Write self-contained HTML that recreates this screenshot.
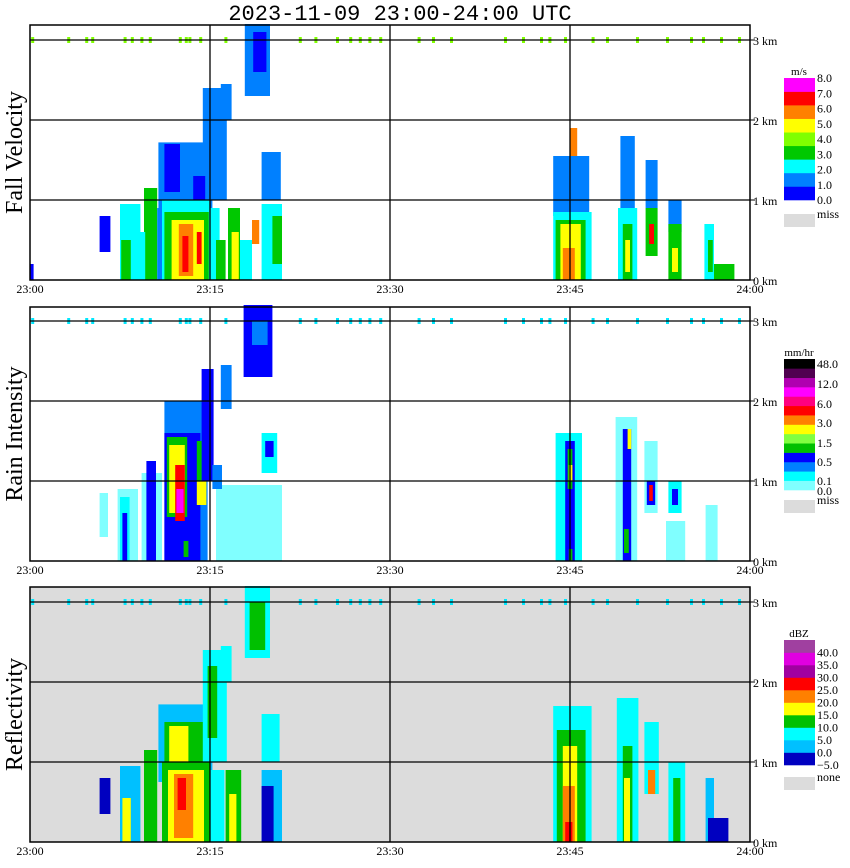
<!DOCTYPE html>
<html><head><meta charset="utf-8"><style>
body{margin:0;background:#fff;width:850px;height:868px;overflow:hidden;font-family:"Liberation Serif",serif}
svg{position:absolute;left:0;top:0}
</style></head><body>
<svg id="chart" width="850" height="868"></svg>
<script>
const timeTicks=["23:00","23:15","23:30","23:45","24:00"];
const heightTicks=[0,1,2,3];
const clutterTimes=[0.1,3.1,4.6,5.1,7.8,8.4,9.2,9.9,12.4,12.9,13.2,14.1,16.2,22.4,23.7,25.5,26.6,27.4,28.2,29.1,32.3,33.5,35,39.5,41,42.5,43.2,44.5,46.8,48,50.5,53,55,56,57.5,59];
// blobs: [tStart(min), tEnd(min), hBottom(km), hTop(km), colorLevel]
const velBlobs=[[10.7,15.2,0.75,1.72,1],[14.4,16.4,1.0,2.4,1],[15.9,16.8,2.0,2.45,1],[17.9,20.0,2.3,3.2,1],[18.6,19.7,2.6,3.1,0],[11.2,12.5,1.1,1.7,0],[13.6,14.6,0.95,1.3,0],
[7.5,9.2,0,0.95,2],[7.6,8.4,0,0.5,3],[9.5,10.6,0,1.15,3],[9.0,9.6,0,0.6,2],[10.6,11.2,0,0.9,1],[11.0,15.0,0,1.0,2],[11.2,14.9,0,0.85,3],[11.8,14.5,0,0.75,5],[12.4,13.6,0.05,0.7,6],[12.7,13.2,0.1,0.55,7],[13.9,14.3,0.2,0.6,7],
[15.0,15.8,0,0.9,2],[15.5,16.3,0,0.5,3],[16.5,17.5,0,0.9,3],[16.8,17.4,0,0.6,5],[17.5,18.5,0,0.5,2],[18.5,19.1,0.45,0.75,6],[19.3,21,0,0.95,2],[20.2,21,0.2,0.8,3],[19.3,20.9,1.0,1.6,1],[5.8,6.7,0.35,0.8,0],[0,0.3,0,0.2,0],
[43.6,46.6,0.8,1.55,1],[45.0,45.6,1.55,1.9,6],[43.6,46.8,0,0.85,2],[43.8,46.3,0,0.75,3],[44.2,45.9,0,0.7,5],[44.4,45.4,0,0.4,6],
[49.2,50.4,0.9,1.8,1],[49.0,50.6,0,0.9,2],[49.4,50.2,0,0.7,3],[49.6,50.0,0.1,0.5,5],
[51.3,52.3,0.9,1.5,1],[51.3,52.3,0.3,0.9,3],[51.6,52.0,0.45,0.7,7],
[53.2,54.3,0.6,1.0,1],[53.2,54.3,0,0.7,3],[53.5,54,0.1,0.4,5],
[56.2,57.0,0,0.7,2],[56.5,56.9,0.1,0.5,3],[57.0,58.7,0,0.2,3]];
const rainBlobs=[[5.8,6.5,0.3,0.85,0],[7.3,9.0,0,0.9,0],[9.3,11.0,0,1.1,0],[15.5,21,0,0.95,0],[7.5,8.3,0,0.8,1],[7.7,8.1,0,0.6,3],[9.7,10.5,0,1.25,3],[11.2,14.8,0,2.0,2],[11.2,14.2,0,1.6,3],[14.3,15.3,1.0,2.4,3],[15.9,16.8,1.9,2.45,2],
[11.4,13.1,0.55,1.55,4],[11.6,12.9,0.6,1.45,6],[12.1,12.9,0.5,1.2,8],[12.2,12.8,0.6,0.9,10],[13.9,14.7,0.7,1.0,6],[13.9,14.3,1.0,1.5,4],[12.8,13.2,0.05,0.25,4],
[17.8,20.2,2.3,3.2,3],[18.5,19.8,2.7,3.0,2],[19.3,20.6,1.1,1.6,1],[19.6,20.3,1.3,1.5,3],[15.2,16.0,0.9,1.2,2],
[43.8,46,0,1.6,1],[44.6,45.4,0,1.5,3],[44.8,45.2,0.9,1.4,4],[44.9,45.2,1.0,1.2,6],[44.9,45.2,0,0.15,4],
[48.8,50.6,0,1.8,0],[49.4,50.1,0,1.65,3],[49.5,49.9,0.1,0.4,4],[49.8,50.1,1.4,1.65,6],
[51.2,52.3,0.6,1.5,0],[51.4,52.1,0.7,1.0,3],[51.6,51.9,0.75,0.95,8],
[53.2,54.3,0.6,1.0,1],[53.5,54,0.7,0.9,3],[53.0,54.6,0,0.5,0],[56.3,57.3,0,0.7,0]];
const reflBlobs=[[10.7,15.2,0.75,1.72,1],[11.2,15.0,0.6,1.5,3],[11.6,13.2,0.7,1.45,4],[14.4,16.4,1.0,2.4,2],[14.8,15.6,1.3,2.2,3],[15.9,16.8,2.0,2.45,2],[17.9,20.0,2.3,3.2,2],[18.3,19.6,2.4,3.0,3],
[7.5,9.2,0,0.95,1],[7.7,8.4,0,0.55,4],[9.5,10.6,0,1.15,3],[11.0,15.0,0,1.0,3],[11.5,14.5,0,0.9,4],[12.0,13.6,0.05,0.85,5],[12.3,13.0,0.4,0.8,6],
[15.0,16.2,0,0.9,2],[16.3,17.6,0,0.9,3],[16.6,17.2,0,0.6,4],[19.3,21,0,0.9,1],[19.3,20.3,0,0.7,0],[19.3,20.8,1.0,1.6,2],[5.8,6.7,0.35,0.8,0],
[43.6,46.8,0,1.7,2],[43.9,46.3,0,1.4,3],[44.4,45.6,0,1.2,4],[44.4,45.4,0,0.7,5],[44.6,45.2,0,0.25,6],
[48.9,50.7,0,1.8,2],[49.4,50.2,0,1.2,3],[49.5,50.0,0,0.8,4],
[51.2,52.4,0.6,1.5,2],[51.5,52.1,0.6,0.9,5],
[53.2,54.6,0,1.0,2],[53.6,54.2,0,0.8,3],[56.3,57.0,0,0.8,1],[56.5,58.2,0,0.3,0]];
const velColors=["#0000ff","#0080ff","#00ffff","#00c800","#80ff00","#ffff00","#ff8000","#ff0000","#ff00ff"];
const velLabels=["0.0","1.0","2.0","3.0","4.0","5.0","6.0","7.0","8.0"];
const rainColors=["#80ffff","#00ffff","#0080ff","#0000ff","#00c000","#80ff40","#ffff00","#ff8000","#ff0000","#ff0080","#ff00ff","#b000b0","#500050","#000000"];
const rainLabels=["0.0","0.1","0.5","1.5","3.0","6.0","12.0","48.0"];
const reflColors=["#0000c0","#00c0ff","#00ffff","#00c000","#ffff00","#ff8000","#ff0000","#a000a0","#e000e0","#a040a0"];
const reflLabels=["\u22125.0","0.0","5.0","10.0","15.0","20.0","25.0","30.0","35.0","40.0"];

const svg=document.getElementById('chart');const NS="http://www.w3.org/2000/svg";
function mk(tag,attrs,parent){const e=document.createElementNS(NS,tag);for(const k in attrs)e.setAttribute(k,attrs[k]);(parent||svg).appendChild(e);return e;}
const X0=30,X1=750;
function xs(t){return X0+t*(X1-X0)/60;}
const title=mk('text',{x:400,y:20,'text-anchor':'middle','font-size':22,'font-family':'Liberation Mono, monospace'});


title.textContent="2023-11-09  23:00-24:00 UTC";

function panel(top,bottom,name,label,blobs,colors,bg,clutterColor,cb){
  const ys=h=>bottom-h*80;
  const g=mk('g',{});
  
  
  mk('rect',{x:X0,y:top,width:X1-X0,height:bottom-top,fill:bg},g);
  blobs.forEach(b=>{
    const r=mk('rect',{x:xs(b[0]),y:ys(b[3]),width:xs(b[1])-xs(b[0]),height:ys(b[2])-ys(b[3]),fill:colors[b[4]]},g);
    
    
  });
  clutterTimes.forEach(t=>{
    const r=mk('rect',{x:xs(t),y:ys(3)-3,width:3,height:6,fill:clutterColor},g);
    
    
  });
  heightTicks.forEach(h=>{
    if(h>0)mk('line',{x1:X0,x2:X1,y1:ys(h),y2:ys(h),stroke:'#000','stroke-width':1.3},g);
    mk('line',{x1:X1,x2:X1+5,y1:ys(h),y2:ys(h),stroke:'#000'},g);
    const t=mk('text',{x:X1+3,y:ys(h)+5,'font-size':12},g);
    
    
    t.textContent=h+" km";
  });
  [1,2,3].forEach(i=>mk('line',{x1:xs(i*15),x2:xs(i*15),y1:top,y2:bottom,stroke:'#000','stroke-width':1.3},g));
  mk('rect',{x:X0,y:top,width:X1-X0,height:bottom-top,fill:'none',stroke:'#000','stroke-width':1.5},g);
  timeTicks.forEach((s,i)=>{
    const t=mk('text',{x:xs(i*15),y:bottom+13,'text-anchor':'middle','font-size':12},g);
    
    
    t.textContent=s;
  });
  const yl=mk('text',{x:22,y:(top+bottom)/2,'text-anchor':'middle','font-size':24,transform:`rotate(-90 22 ${(top+bottom)/2})`},g);
  
  
  yl.textContent=label;
  const cg=mk('g',{},g);
  
  
  const n=colors.length,rh=(cb.bot-cb.top)/n;
  colors.forEach((c,i)=>mk('rect',{x:784,y:cb.bot-(i+1)*rh,width:31,height:rh+0.3,fill:c},cg));
  const u=mk('text',{x:799,y:cb.top-3,'text-anchor':'middle','font-size':11},cg);u.textContent=cb.unit;
  cb.labels.forEach((s,i)=>{const t=mk('text',{x:817,y:cb.labelY[i]+4,'font-size':12},cg);t.textContent=s;});
  mk('rect',{x:784,y:cb.missY,width:31,height:13,fill:'#dcdcdc'},cg);
  const m=mk('text',{x:817,y:cb.missY+4,'font-size':12},cg);m.textContent=cb.miss;
}
panel(25,280,'fall-velocity','Fall Velocity',velBlobs,velColors,'#ffffff','#80ff00',
 {top:78,bot:200,unit:'m/s',labels:velLabels,labelY:velLabels.map((s,i)=>200-i*122/8),missY:214,miss:'miss'});
panel(307,561,'rain-intensity','Rain Intensity',rainBlobs,rainColors,'#ffffff','#00e8ff',
 {top:359,bot:490,unit:'mm/hr',labels:rainLabels,labelY:[491,481,462,443,423,404,384,364],missY:500,miss:'miss'});
panel(587,842,'reflectivity','Reflectivity',reflBlobs,reflColors,'#dcdcdc','#00e8ff',
 {top:640,bot:765,unit:'dBZ',labels:reflLabels,labelY:reflLabels.map((s,i)=>765-i*12.5),missY:777,miss:'none'});
</script>
</body></html>
